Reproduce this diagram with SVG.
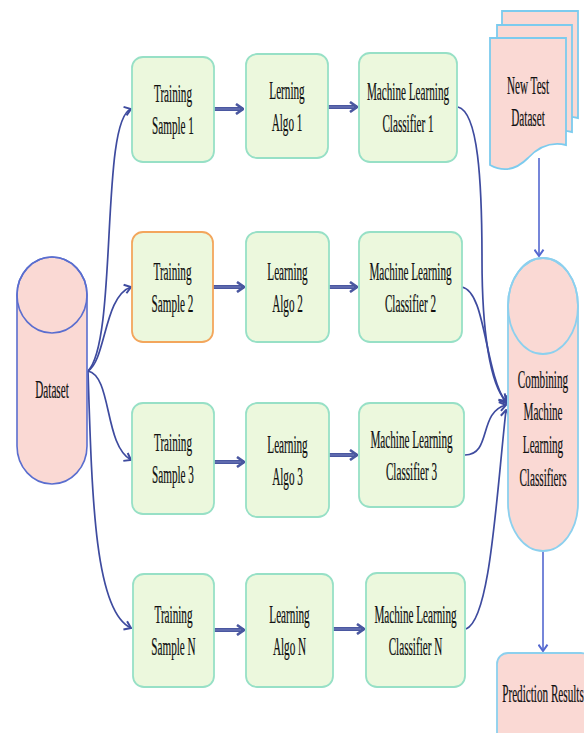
<svg xmlns="http://www.w3.org/2000/svg" width="584" height="733" viewBox="0 0 584 733">
<style>
.g{fill:#ecf8dd;stroke:#97e0c6;stroke-width:1.8}
.o{fill:#ecf8dd;stroke:#f3a65c;stroke-width:1.8}
.pk{fill:#fad9d4}
.t{font-family:"Liberation Serif","Times New Roman",serif;font-size:26px;fill:#111;stroke:#111;stroke-width:0.25;text-anchor:middle}
.h{fill:none;stroke:#4a57a0;stroke-width:4}
.hi{fill:none;stroke:#7e89c4;stroke-width:0.8}
.c{fill:none;stroke:#3e4b9f;stroke-width:1.7}
.v{fill:none;stroke:#5468d0;stroke-width:1.6}
</style>
<defs>
<marker id="ah" viewBox="0 0 10 12" refX="9" refY="6" markerWidth="10" markerHeight="12" orient="auto" markerUnits="userSpaceOnUse"><path d="M2,1 L9,6 L2,11" fill="none" stroke="#4a57a0" stroke-width="2.6"/></marker>
<marker id="ac" viewBox="0 0 10 12" refX="9" refY="6" markerWidth="9" markerHeight="11" orient="auto" markerUnits="userSpaceOnUse"><path d="M2,1 L9,6 L2,11" fill="none" stroke="#3e4b9f" stroke-width="2.2"/></marker>
<marker id="av" viewBox="0 0 10 12" refX="9" refY="6" markerWidth="9" markerHeight="11" orient="auto" markerUnits="userSpaceOnUse"><path d="M2,1 L9,6 L2,11" fill="none" stroke="#5468d0" stroke-width="2.2"/></marker>
</defs>

<g id="connectors">
<path class="h" d="M214,109 H243" marker-end="url(#ah)"/>
<path class="h" d="M328,107 H357" marker-end="url(#ah)"/>
<path class="h" d="M213,287 H244" marker-end="url(#ah)"/>
<path class="h" d="M329,287 H357" marker-end="url(#ah)"/>
<path class="h" d="M214,462 H244" marker-end="url(#ah)"/>
<path class="h" d="M329,455 H357" marker-end="url(#ah)"/>
<path class="h" d="M214,630 H244" marker-end="url(#ah)"/>
<path class="h" d="M333,629 H364" marker-end="url(#ah)"/>
<path class="hi" d="M214,109 H240 M328,107 H354 M213,287 H241 M329,287 H354 M214,462 H241 M329,455 H354 M214,630 H241 M333,629 H361"/>
<path class="c" d="M88,371 C118,340 100,120 131,109" marker-end="url(#ac)"/>
<path class="c" d="M88,371 C106,360 104,296 131,287" marker-end="url(#ac)"/>
<path class="c" d="M88,371 C112,376 104,445 131,460" marker-end="url(#ac)"/>
<path class="c" d="M88,371 C92,500 95,612 131,628" marker-end="url(#ac)"/>
<path class="c" d="M458,107 C478,112 482,180 482,260 C482,330 490,385 506,401" marker-end="url(#ac)"/>
<path class="c" d="M462,287 C486,292 484,370 506,403" marker-end="url(#ac)"/>
<path class="c" d="M465,455 C492,455 478,412 506,405" marker-end="url(#ac)"/>
<path class="c" d="M466,629 C490,620 496,500 506,410" marker-end="url(#ac)"/>
<path class="v" d="M539,158 V256" marker-end="url(#av)"/>
<path class="v" d="M543,551 V651" marker-end="url(#av)"/>
</g>

<g id="dataset">
<path class="pk" d="M17,295 A35,38 0 0 1 87,295 V446 A35,38 0 0 1 17,446 Z" stroke="#5a6ecf" stroke-width="1.6"/>
<ellipse cx="52" cy="295" rx="35" ry="38" fill="none" stroke="#5a6ecf" stroke-width="1.6"/>
<text class="t" transform="translate(52,398) scale(0.43,1)">Dataset</text>
</g>

<g id="ts1"><rect class="g" x="132" y="57" width="82" height="105" rx="11"/>
<text class="t" transform="translate(173,102) scale(0.43,1)">Training</text>
<text class="t" transform="translate(173,134) scale(0.43,1)">Sample 1</text></g>
<g id="la1"><rect class="g" x="246" y="54" width="82" height="104" rx="11"/>
<text class="t" transform="translate(287,99) scale(0.43,1)">Lerning</text>
<text class="t" transform="translate(287,131) scale(0.43,1)">Algo 1</text></g>
<g id="mlc1"><rect class="g" x="359" y="53" width="98" height="109" rx="11"/>
<text class="t" transform="translate(408,100) scale(0.43,1)">Machine Learning</text>
<text class="t" transform="translate(408,132) scale(0.43,1)">Classifier 1</text></g>

<g id="ts2"><rect class="o" x="132" y="232" width="81" height="110" rx="11"/>
<text class="t" transform="translate(172.5,280) scale(0.43,1)">Training</text>
<text class="t" transform="translate(172.5,312) scale(0.43,1)">Sample 2</text></g>
<g id="la2"><rect class="g" x="246" y="232" width="83" height="110" rx="11"/>
<text class="t" transform="translate(287.5,280) scale(0.43,1)">Learning</text>
<text class="t" transform="translate(287.5,312) scale(0.43,1)">Algo 2</text></g>
<g id="mlc2"><rect class="g" x="359" y="232" width="103" height="110" rx="11"/>
<text class="t" transform="translate(410.5,280) scale(0.43,1)">Machine Learning</text>
<text class="t" transform="translate(410.5,312) scale(0.43,1)">Classifier 2</text></g>

<g id="ts3"><rect class="g" x="132" y="403" width="82" height="111" rx="11"/>
<text class="t" transform="translate(173,451) scale(0.43,1)">Training</text>
<text class="t" transform="translate(173,483) scale(0.43,1)">Sample 3</text></g>
<g id="la3"><rect class="g" x="246" y="403" width="83" height="114" rx="11"/>
<text class="t" transform="translate(287.5,453) scale(0.43,1)">Learning</text>
<text class="t" transform="translate(287.5,485) scale(0.43,1)">Algo 3</text></g>
<g id="mlc3"><rect class="g" x="359" y="403" width="105" height="104" rx="11"/>
<text class="t" transform="translate(411.5,448) scale(0.43,1)">Machine Learning</text>
<text class="t" transform="translate(411.5,480) scale(0.43,1)">Classifier 3</text></g>

<g id="tsn"><rect class="g" x="133" y="574" width="81" height="113" rx="11"/>
<text class="t" transform="translate(173.5,623) scale(0.43,1)">Training</text>
<text class="t" transform="translate(173.5,655) scale(0.43,1)">Sample N</text></g>
<g id="lan"><rect class="g" x="246" y="574" width="87" height="113" rx="11"/>
<text class="t" transform="translate(289.5,623) scale(0.43,1)">Learning</text>
<text class="t" transform="translate(289.5,655) scale(0.43,1)">Algo N</text></g>
<g id="mlcn"><rect class="g" x="366" y="573" width="99" height="114" rx="11"/>
<text class="t" transform="translate(415.5,623) scale(0.43,1)">Machine Learning</text>
<text class="t" transform="translate(415.5,655) scale(0.43,1)">Classifier N</text></g>

<g id="newtest">
<path class="pk" d="M502,11 H578 V118 Q557,113 540,131 Q522,149 502,138 Z" stroke="#7ccbee" stroke-width="1.8"/>
<path class="pk" d="M497,25 H572 V132 Q551,127 534,145 Q516,163 497,152 Z" stroke="#7ccbee" stroke-width="1.8"/>
<path class="pk" d="M490,38 H566 V145 Q545,140 528,158 Q510,176 490,165 Z" stroke="#7ccbee" stroke-width="1.8"/>
<text class="t" transform="translate(528,94) scale(0.43,1)">New Test</text>
<text class="t" transform="translate(528,126) scale(0.43,1)">Dataset</text>
</g>

<g id="combining">
<path class="pk" d="M508,306 A35,48 0 0 1 578,306 V503 A35,48 0 0 1 508,503 Z" stroke="#8cd0ee" stroke-width="1.8"/>
<ellipse cx="543" cy="306" rx="35" ry="48" fill="none" stroke="#8cd0ee" stroke-width="1.8"/>
<text class="t" transform="translate(543,388) scale(0.43,1)">Combining</text>
<text class="t" transform="translate(543,420) scale(0.43,1)">Machine</text>
<text class="t" transform="translate(543,453) scale(0.43,1)">Learning</text>
<text class="t" transform="translate(543,486) scale(0.43,1)">Classifiers</text>
</g>

<g id="prediction">
<rect class="pk" x="497" y="653" width="95" height="95" rx="11" stroke="#8cd0ee" stroke-width="1.8"/>
<text class="t" transform="translate(543,702) scale(0.43,1)">Prediction Results</text>
</g>
</svg>
